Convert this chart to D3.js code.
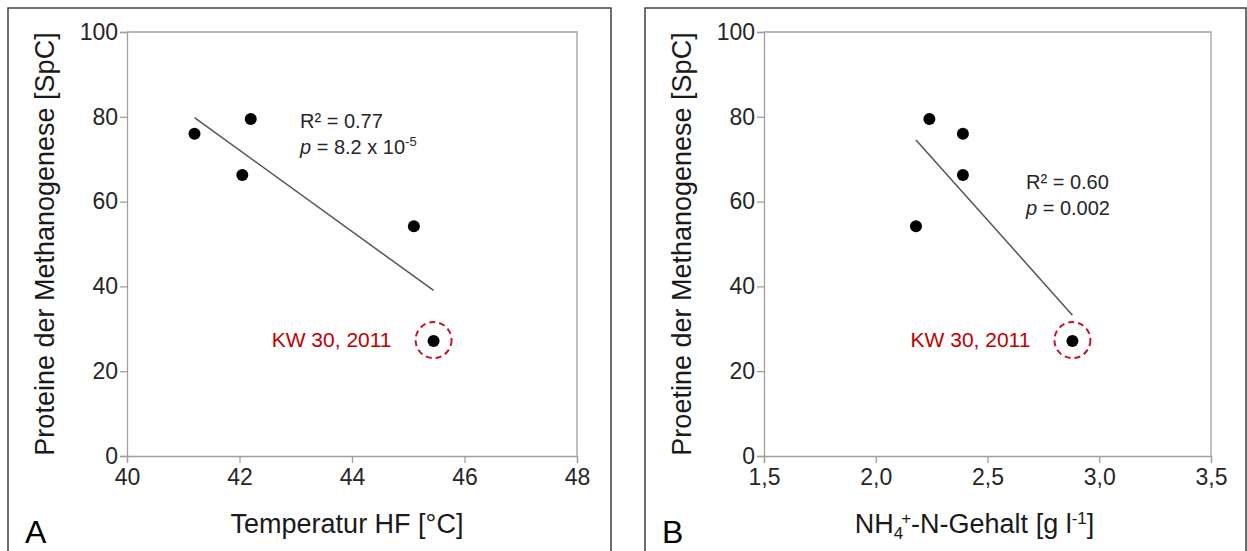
<!DOCTYPE html>
<html><head><meta charset="utf-8">
<script src="https://cdn.jsdelivr.net/npm/d3@7"></script>
<style>body{margin:0;background:#fff}svg{display:block}text{font-family:"Liberation Sans",Arial,sans-serif}</style>
</head><body><svg id="c" width="1247" height="551"></svg>
<script>
// data
const proteins = [76, 79.5, 66.3, 54.2, 27.1];
const temperature = [41.2, 42.2, 42.05, 45.1, 45.45];
const ammonium = [2.39, 2.24, 2.39, 2.18, 2.88];
const yTicks = [0, 20, 40, 60, 80, 100];
const xTicksA = [40, 42, 44, 46, 48];
const xTicksB = [1.5, 2.0, 2.5, 3.0, 3.5];
const outlierIndex = 4;
const outlierLabel = "KW 30, 2011";
const statsA = ["0.77", "8.2 x 10", "-5"];
const statsB = ["0.60", "0.002", ""];

const svg = d3.select("#c");

function panel(cfg) {
  const g = svg.append("g");
  g.append("path").attr("d", `M${cfg.fx0},560 V${8} H${cfg.fx1} V560`)
    .attr("fill", "none").attr("stroke", "#404040").attr("stroke-width", 1.5);

  const x = d3.scaleLinear().domain(cfg.xDomain).range([cfg.left, cfg.right]);
  const y = d3.scaleLinear().domain([0, 100]).range([456, 32]);

  g.append("path").attr("d", `M${cfg.left},${y(100)} H${cfg.right} V${y(0)}`)
    .attr("fill", "none").attr("stroke", "#a0a0a0").attr("stroke-width", 1.3);

  const xa = g.append("g").attr("transform", `translate(0,${y(0)})`)
    .call(d3.axisBottom(x).tickValues(cfg.xTicks).tickSize(7).tickPadding(6)
      .tickFormat(cfg.fmt));
  const ya = g.append("g").attr("transform", `translate(${cfg.left},0)`)
    .call(d3.axisLeft(y).tickValues(yTicks).tickSize(7).tickPadding(2));
  [xa, ya].forEach(a => {
    a.select(".domain").attr("stroke", "#a0a0a0").attr("stroke-width", 1.3);
    a.selectAll(".tick line").attr("stroke", "#a0a0a0").attr("stroke-width", 1.3);
    a.selectAll("text").attr("fill", "#262626").style("font-size", "23px")
      .style("font-family", "'Liberation Sans',Arial,sans-serif");
  });

  // regression line computed from data
  const xs = cfg.xs;
  const mx = d3.mean(xs), my = d3.mean(proteins);
  let sxy = 0, sxx = 0;
  xs.forEach((v, i) => { sxy += (v - mx) * (proteins[i] - my); sxx += (v - mx) ** 2; });
  const slope = sxy / sxx, icpt = my - slope * mx;
  const [x0, x1] = d3.extent(xs);
  g.append("line").attr("x1", x(x0)).attr("y1", y(icpt + slope * x0))
    .attr("x2", x(x1)).attr("y2", y(icpt + slope * x1))
    .attr("stroke", "#555").attr("stroke-width", 1.5);

  g.selectAll("circle.pt").data(xs).join("circle").attr("class", "pt")
    .attr("cx", d => x(d)).attr("cy", (d, i) => y(proteins[i])).attr("r", 6)
    .attr("fill", "#000");

  const ox = x(xs[outlierIndex]), oy = y(proteins[outlierIndex]) - 1;
  g.append("circle").attr("cx", ox).attr("cy", oy).attr("r", 18)
    .attr("fill", "none").attr("stroke", "#c8102e").attr("stroke-width", 2)
    .attr("stroke-dasharray", "6,4");
  g.append("text").attr("x", ox - 42).attr("y", oy + 7).attr("text-anchor", "end")
    .attr("fill", "#c00000").style("font-size", "21px").text(outlierLabel);

  const t1 = g.append("text").attr("x", cfg.sx).attr("y", cfg.sy).attr("fill", "#262626").style("font-size", "20px");
  t1.text("R² = " + cfg.stats[0]);
  const t2 = g.append("text").attr("x", cfg.sx).attr("y", cfg.sy + 26).attr("fill", "#262626").style("font-size", "20px");
  t2.append("tspan").text("p").style("font-style", "italic");
  t2.append("tspan").text(" = " + cfg.stats[1]);
  if (cfg.stats[2]) t2.append("tspan").text(cfg.stats[2]).style("font-size", "13px").attr("dy", -8);

  g.append("text").attr("transform", `translate(${cfg.left - 73},${(y(0) + y(100)) / 2}) rotate(-90)`)
    .attr("text-anchor", "middle").attr("fill", "#1a1a1a").style("font-size", "27px")
    .text(cfg.ytitle);
  const xt = g.append("text").attr("x", (cfg.left + cfg.right) / 2 + cfg.xtOff).attr("y", 533)
    .attr("text-anchor", "middle").attr("fill", "#1a1a1a").style("font-size", "27px");
  cfg.xtitle(xt);

  g.append("text").attr("x", cfg.fx0 + 17).attr("y", 543).attr("fill", "#000")
    .style("font-size", "32px").text(cfg.letter);
}

panel({
  fx0: 8, fx1: 611, left: 127, right: 577, xDomain: [40, 48], xTicks: xTicksA,
  fmt: d3.format("d"), xs: temperature, stats: statsA, sx: 300, sy: 128,
  ytitle: "Proteine der Methanogenese [SpC]", xtOff: -5, letter: "A",
  xtitle: t => t.text("Temperatur HF [°C]")
});
panel({
  fx0: 645, fx1: 1246, left: 764, right: 1211, xDomain: [1.5, 3.5], xTicks: xTicksB,
  fmt: d => d3.format(".1f")(d).replace(".", ","), xs: ammonium, stats: statsB, sx: 1026, sy: 189,
  ytitle: "Proetine der Methanogenese [SpC]", xtOff: -13, letter: "B",
  xtitle: t => {
    t.append("tspan").text("NH");
    t.append("tspan").text("4").style("font-size", "17px").attr("dy", 6);
    t.append("tspan").text("+").style("font-size", "17px").attr("dy", -15).attr("dx", -2);
    t.append("tspan").text("-N-Gehalt [g l").attr("dy", 9);
    t.append("tspan").text("-1").style("font-size", "17px").attr("dy", -9);
    t.append("tspan").text("]").attr("dy", 9);
  }
});
</script></body></html>
